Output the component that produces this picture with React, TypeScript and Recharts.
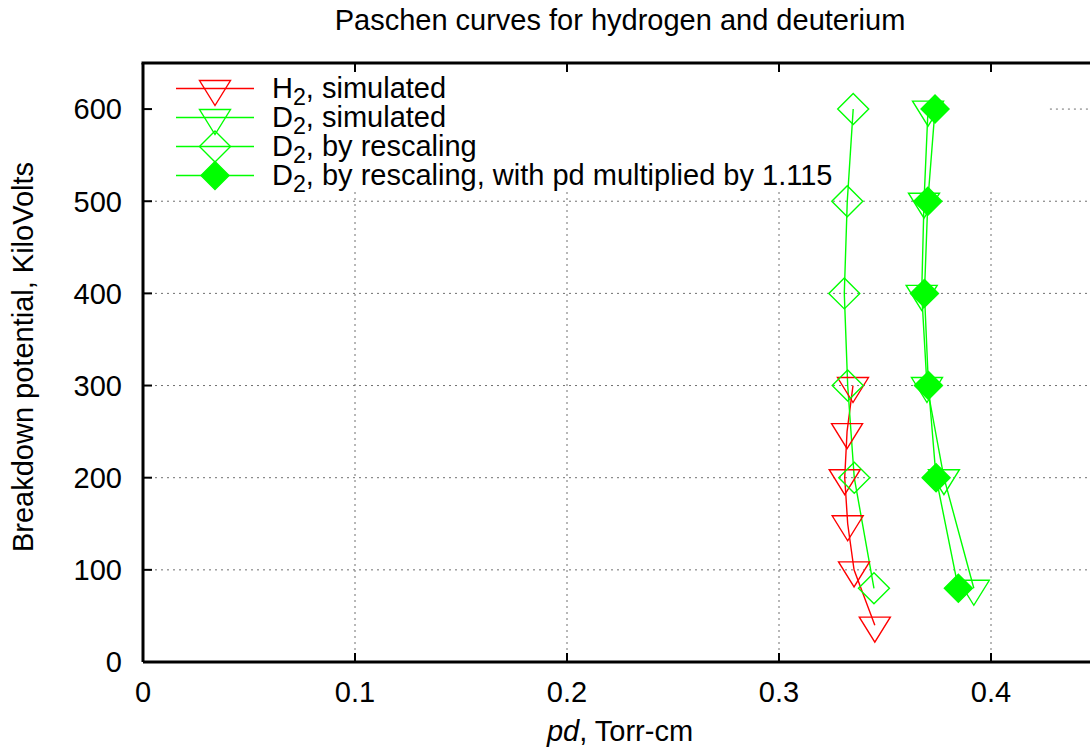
import React from "react";
import { ComposedChart, Customized, Legend, Line, ReferenceLine, XAxis, YAxis } from "recharts";

// values (pd in Torr-cm, breakdown potential in kV)
const h2SimPd = [0.3349, 0.3321, 0.331, 0.3324, 0.3354, 0.3452];
const h2SimKv = [300, 250, 200, 150, 100, 40];
const d2SimPd = [0.3703, 0.3684, 0.3673, 0.3698, 0.3778, 0.3919];
const d2SimKv = [600, 500, 400, 300, 200, 80];
const d2ResPd = [0.335, 0.3322, 0.3308, 0.3324, 0.3355, 0.3448];
const d2ResKv = [600, 500, 400, 300, 200, 80];
const d2MulPd = [0.3736, 0.3702, 0.3686, 0.3705, 0.3741, 0.3846];
const d2MulKv = [600, 500, 400, 300, 200, 80];

const xTicks = [0, 0.1, 0.2, 0.3, 0.4];
const yTicks = [0, 100, 200, 300, 400, 500, 600];

const X_MAX = 0.45;
const Y_MAX = 650;

const FONT = "'Liberation Sans', Arial, Helvetica, sans-serif";
const FS = 29;
const RED = "#ff0000";
const GREEN = "#00ff00";

// plot frame in pixels (chart margins + axis sizes)
const PLOT_LEFT = 143;
const PLOT_TOP = 63;
const PLOT_WIDTH = 954;

// the key box hides the grid behind it
const KEY_BOTTOM_KV = 512;
const KEY_RIGHT_PD = 0.4278;

const toRows = (pd: number[], kv: number[]) => pd.map((x, i) => ({ pd: x, kv: kv[i] }));

const series = [
  { id: "h2sim", name: "H", rest: ", simulated", color: RED, shape: "tri", data: toRows(h2SimPd, h2SimKv) },
  { id: "d2sim", name: "D", rest: ", simulated", color: GREEN, shape: "tri", data: toRows(d2SimPd, d2SimKv) },
  { id: "d2res", name: "D", rest: ", by rescaling", color: GREEN, shape: "dia", data: toRows(d2ResPd, d2ResKv) },
  {
    id: "d2mul",
    name: "D",
    rest: ", by rescaling, with pd multiplied by 1.115",
    color: GREEN,
    shape: "fdia",
    data: toRows(d2MulPd, d2MulKv),
  },
];

const marker = (shape: string, cx: number, cy: number, color: string, key?: string) => {
  if (shape === "tri") {
    return (
      <path
        key={key}
        d={`M${cx - 15.5},${cy - 8}L${cx + 15.5},${cy - 8}L${cx},${cy + 17}Z`}
        fill="none"
        stroke={color}
        strokeWidth={1.4}
      />
    );
  }
  const r = shape === "fdia" ? 14 : 15.5;
  return (
    <path
      key={key}
      d={`M${cx},${cy - r}L${cx + r},${cy}L${cx},${cy + r}L${cx - r},${cy}Z`}
      fill={shape === "fdia" ? color : "none"}
      stroke={color}
      strokeWidth={1.4}
    />
  );
};

const renderKey = () => (
  <div style={{ fontFamily: FONT, fontSize: FS, color: "#000" }}>
    {series.map((s) => (
      <div key={s.id} style={{ display: "flex", alignItems: "center", height: 29 }}>
        <svg width={96} height={29} style={{ overflow: "visible", flex: "none" }}>
          <line x1={0} x2={78} y1={14.5} y2={14.5} stroke={s.color} strokeWidth={1.4} />
          {marker(s.shape, 39, 14.5, s.color)}
        </svg>
        <span style={{ lineHeight: 1, whiteSpace: "nowrap" }}>
          {s.name}
          <sub style={{ fontSize: "0.8em", verticalAlign: "-0.3em", lineHeight: 0 }}>2</sub>
          {s.rest}
        </span>
      </div>
    ))}
  </div>
);

// title plus the top edge of the frame with its mirrored ticks
const TitleAndFrame = () => (
  <g>
    <text x={620} y={30} textAnchor="middle" fontFamily={FONT} fontSize={FS} fill="#000">
      Paschen curves for hydrogen and deuterium
    </text>
    <line x1={PLOT_LEFT - 1.5} x2={PLOT_LEFT + PLOT_WIDTH} y1={PLOT_TOP} y2={PLOT_TOP} stroke="#000" strokeWidth={3} />
    {xTicks
      .filter((v) => v > 0)
      .map((v) => {
        const x = PLOT_LEFT + (v / X_MAX) * PLOT_WIDTH;
        return <line key={`tt${v}`} x1={x} x2={x} y1={PLOT_TOP} y2={PLOT_TOP + 9} stroke="#000" strokeWidth={2} />;
      })}
  </g>
);

const XLabel = (props: any) => {
  const vb = props.viewBox;
  return (
    <text x={vb.x + vb.width / 2} y={vb.y + 79} textAnchor="middle" fontFamily={FONT} fontSize={FS} fill="#000">
      <tspan fontStyle="italic">pd</tspan>, Torr-cm
    </text>
  );
};

const YLabel = (props: any) => {
  const vb = props.viewBox;
  const x = vb.x - 50;
  const y = 357;
  return (
    <text
      x={x}
      y={y}
      transform={`rotate(-90 ${x} ${y})`}
      textAnchor="middle"
      fontFamily={FONT}
      fontSize={FS}
      fill="#000"
    >
      Breakdown potential, KiloVolts
    </text>
  );
};

const gridStyle = { stroke: "#707070", strokeWidth: 1, strokeDasharray: "2 4" };
const tickStyle = { fill: "#000", fontSize: FS, fontFamily: FONT };

export default function App() {
  return (
    <div style={{ position: "absolute", left: 0, top: 0, width: 1090, height: 748, overflow: "hidden", background: "#fff" }}>
      <ComposedChart width={1120} height={748} margin={{ top: PLOT_TOP, right: 23, bottom: 26, left: 83 }}>
        <XAxis
          type="number"
          dataKey="pd"
          domain={[0, X_MAX]}
          ticks={xTicks}
          allowDataOverflow
          height={60}
          tick={tickStyle}
          tickFormatter={(v: number) => String(v)}
          tickSize={-9}
          tickMargin={28}
          axisLine={{ stroke: "#000", strokeWidth: 3 }}
          tickLine={{ stroke: "#000", strokeWidth: 2 }}
          label={{ content: XLabel }}
        />
        <YAxis
          type="number"
          domain={[0, Y_MAX]}
          ticks={yTicks}
          allowDataOverflow
          width={60}
          tick={tickStyle}
          tickSize={-9}
          tickMargin={30}
          axisLine={{ stroke: "#000", strokeWidth: 3 }}
          tickLine={{ stroke: "#000", strokeWidth: 2 }}
          label={{ content: YLabel }}
        />
        {xTicks
          .filter((v) => v > 0)
          .map((v) => (
            <ReferenceLine
              key={`gx${v}`}
              segment={[
                { x: v, y: 0 },
                { x: v, y: KEY_BOTTOM_KV },
              ]}
              {...gridStyle}
            />
          ))}
        {yTicks
          .filter((v) => v > 0)
          .map((v) => (
            <ReferenceLine
              key={`gy${v}`}
              segment={[
                { x: v >= KEY_BOTTOM_KV ? KEY_RIGHT_PD : 0, y: v },
                { x: X_MAX, y: v },
              ]}
              {...gridStyle}
            />
          ))}
        {series.map((s) => (
          <Line
            key={s.id}
            data={s.data}
            dataKey="kv"
            name={s.id}
            type="linear"
            stroke={s.color}
            strokeWidth={1.4}
            isAnimationActive={false}
            dot={(p: any) => marker(s.shape, p.cx, p.cy, s.color, `${s.id}-${p.index}`)}
            activeDot={false}
          />
        ))}
        <Legend
          layout="vertical"
          align="center"
          verticalAlign="middle"
          content={renderKey}
          wrapperStyle={{ position: "absolute", left: 176, top: 73.5, width: "auto" }}
        />
        <Customized component={<TitleAndFrame />} />
      </ComposedChart>
    </div>
  );
}
